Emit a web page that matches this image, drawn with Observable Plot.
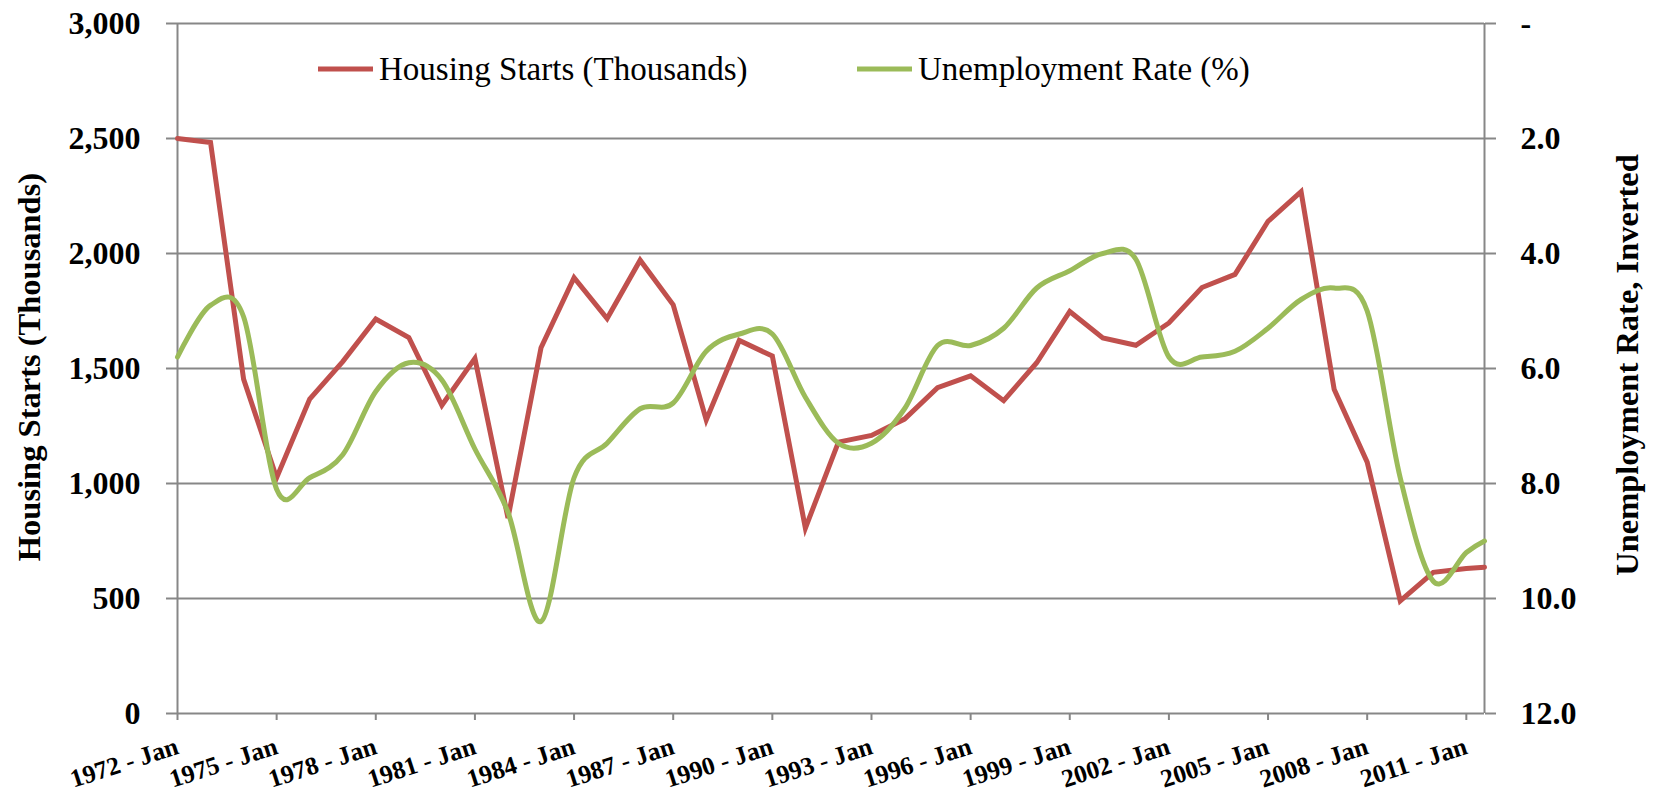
<!DOCTYPE html>
<html>
<head>
<meta charset="utf-8">
<script src="https://cdn.jsdelivr.net/npm/d3@7"></script>
<script src="https://cdn.jsdelivr.net/npm/@observablehq/plot@0.6"></script>
<style>
  html, body { margin: 0; padding: 0; background: #ffffff; }
  #wrap { position: relative; width: 1658px; height: 808px; font-family: "Liberation Serif", "Times New Roman", serif; }
  .legend { position: absolute; top: 49px; height: 40px; display: flex; align-items: center; font-size: 33px; line-height: 40px; color: #000; white-space: nowrap; }
  .legend svg { display: block; margin-right: 6px; }
  .axis-title { position: absolute; font-size: 32.5px; line-height: 32.5px; font-weight: bold; color: #000; white-space: nowrap;
                transform: translate(-50%, -50%) rotate(-90deg); }
</style>
</head>
<body>
<div id="wrap"></div>
<script>
// ---- data ----
const periods = [1972, 1973, 1974, 1975, 1976, 1977, 1978, 1979, 1980, 1981,
                 1982, 1983, 1984, 1985, 1986, 1987, 1988, 1989, 1990, 1991,
                 1992, 1993, 1994, 1995, 1996, 1997, 1998, 1999, 2000, 2001,
                 2002, 2003, 2004, 2005, 2006, 2007, 2008, 2009, 2010, 2011, 2011.55];
const housingStarts = [2500, 2483, 1454, 1025, 1367, 1530, 1715, 1635, 1340, 1544,
                       850, 1590, 1895, 1717, 1971, 1777, 1276, 1622, 1554, 806,
                       1180, 1209, 1280, 1417, 1468, 1360, 1525, 1748, 1633, 1601,
                       1698, 1852, 1909, 2140, 2269, 1410, 1093, 490, 614, 630, 636];
const unemploymentRate = [5.8, 4.9, 5.1, 8.1, 7.9, 7.5, 6.4, 5.9, 6.2, 7.4,
                          8.5, 10.4, 7.9, 7.3, 6.7, 6.6, 5.7, 5.4, 5.4, 6.5,
                          7.3, 7.3, 6.7, 5.6, 5.6, 5.3, 4.6, 4.3, 4.0, 4.1,
                          5.8, 5.8, 5.7, 5.3, 4.8, 4.6, 5.0, 7.9, 9.7, 9.2, 9.0];
const xTickYears = [1972, 1975, 1978, 1981, 1984, 1987, 1990, 1993, 1996, 1999, 2002, 2005, 2008, 2011];
const leftTicks = [0, 500, 1000, 1500, 2000, 2500, 3000];
const rightTicks = [0, 2, 4, 6, 8, 10, 12];
const seriesNames = ["Housing Starts (Thousands)", "Unemployment Rate (%)"];
const leftTitle = "Housing Starts (Thousands)";
const rightTitle = "Unemployment Rate, Inverted";

// ---- styling ----
const RED = "#C0504D", GREEN = "#9BBB59", GRID = "#878787";
const FONT = "'Liberation Serif', 'Times New Roman', serif";

// secondary (inverted) axis mapped onto the primary scale
const rateToLeft = d3.scaleLinear().domain([0, 12]).range([3000, 0]);

const rows = periods.map((x, i) => ({x, hs: housingStarts[i], ur: unemploymentRate[i]}));

const chart = Plot.plot({
  width: 1658,
  height: 808,
  marginLeft: 177,
  marginRight: 174,
  marginTop: 23,
  marginBottom: 95,
  style: {fontFamily: FONT, background: "white", color: "black", overflow: "visible"},
  x: {domain: [periods[0], periods[periods.length - 1]]},
  y: {domain: [0, 3000]},
  marks: [
    Plot.gridY(leftTicks, {stroke: GRID, strokeOpacity: 1, strokeWidth: 2}),
    Plot.ruleX([periods[0], periods[periods.length - 1]], {stroke: GRID, strokeWidth: 2}),
    Plot.axisY(leftTicks, {
      anchor: "left", tickSize: 11, tickPadding: 26, stroke: GRID, strokeWidth: 2,
      fill: "black", fontSize: 32, fontWeight: "bold", tickFormat: d3.format(","), label: null
    }),
    Plot.axisY(rightTicks.map(rateToLeft), {
      anchor: "right", tickSize: 11, tickPadding: 25, stroke: GRID, strokeWidth: 2,
      fill: "black", fontSize: 32, fontWeight: "bold", label: null, textAnchor: "start",
      tickFormat: d => {
        const u = Math.round(rateToLeft.invert(d) * 10) / 10;
        return u === 0 ? "-" : u.toFixed(1);
      }
    }),
    Plot.axisX(xTickYears, {
      anchor: "bottom", tickSize: 7, tickPadding: 25, tickRotate: -18, stroke: GRID, strokeWidth: 2,
      fill: "black", fontSize: 25.5, fontWeight: "bold", label: null, textAnchor: "end",
      tickFormat: d => `${d} - Jan`
    }),
    Plot.line(rows, {x: "x", y: "hs", stroke: RED, strokeWidth: 5, strokeLinejoin: "miter", strokeMiterlimit: 4}),
    Plot.line(rows, {x: "x", y: d => rateToLeft(d.ur), stroke: GREEN, strokeWidth: 5, curve: "cardinal"})
  ]
});

const wrap = document.getElementById("wrap");
wrap.appendChild(chart);

// axis titles
for (const t of [{text: leftTitle, cx: 29, cy: 367}, {text: rightTitle, cx: 1627, cy: 365}]) {
  const div = document.createElement("div");
  div.className = "axis-title";
  div.style.left = t.cx + "px";
  div.style.top = t.cy + "px";
  div.textContent = t.text;
  wrap.appendChild(div);
}

// legend (inside the plot area, top)
const legendItems = [
  {name: seriesNames[0], color: RED, left: 318},
  {name: seriesNames[1], color: GREEN, left: 857}
];
for (const item of legendItems) {
  const div = document.createElement("div");
  div.className = "legend";
  div.style.left = item.left + "px";
  div.innerHTML = `<svg width="55" height="10"><line x1="0" y1="5" x2="55" y2="5" stroke="${item.color}" stroke-width="5"/></svg><span></span>`;
  div.querySelector("span").textContent = item.name;
  wrap.appendChild(div);
}
</script>
</body>
</html>
